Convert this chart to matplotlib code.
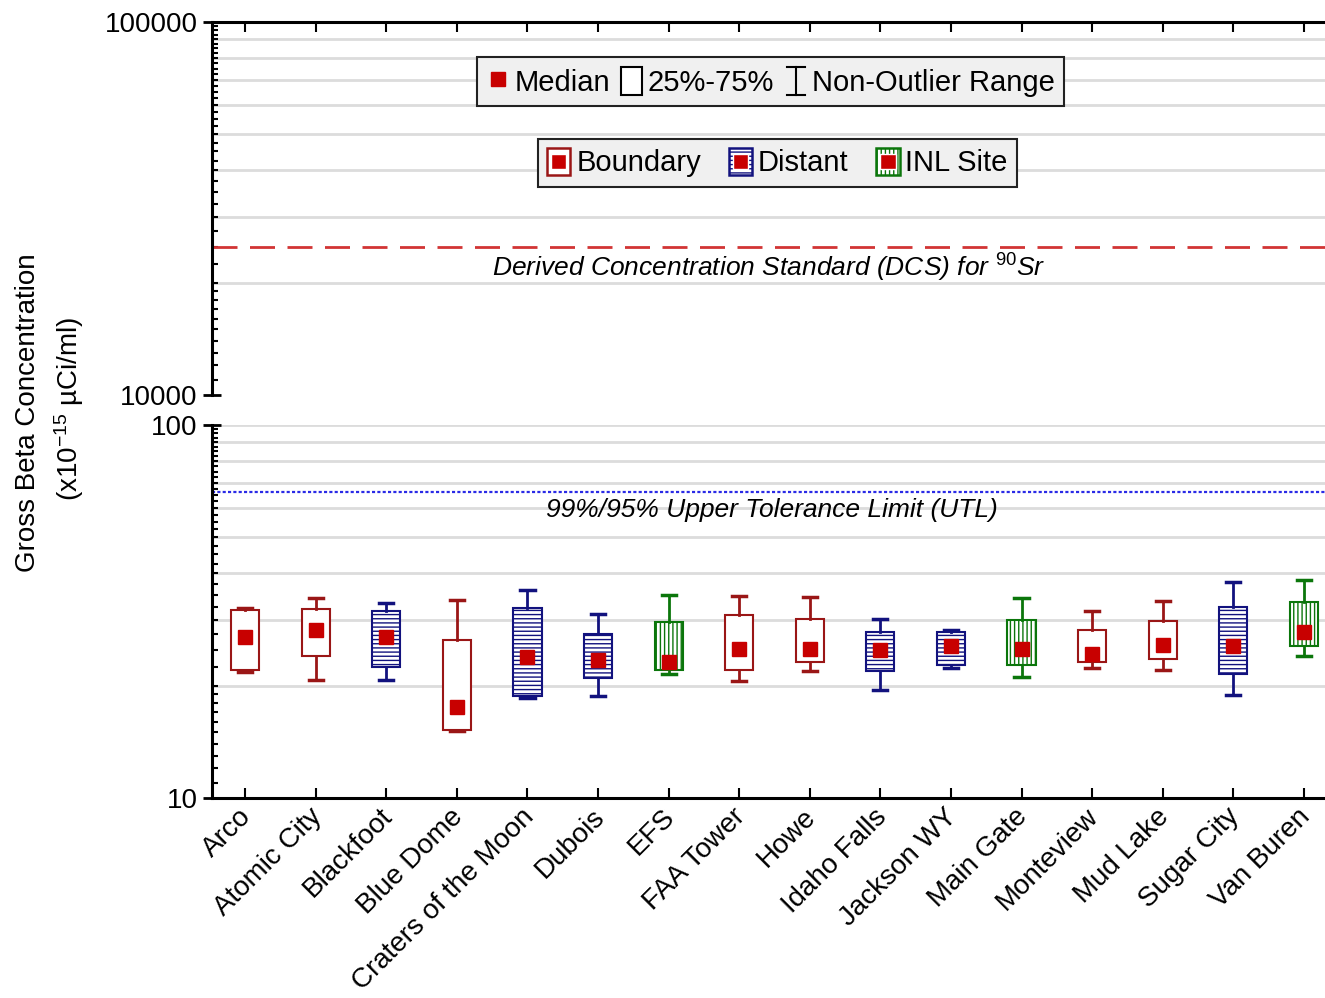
import numpy as np
import matplotlib
matplotlib.use('Agg')
import matplotlib.pyplot as plt
from matplotlib.patches import Rectangle
from matplotlib.lines import Line2D
from matplotlib.legend_handler import HandlerBase
from matplotlib.transforms import ScaledTranslation

plt.rcParams['font.family'] = ['Liberation Sans', 'DejaVu Sans']
plt.rcParams['mathtext.fontset'] = 'custom'
plt.rcParams['mathtext.rm'] = 'Liberation Sans'
plt.rcParams['mathtext.it'] = 'Liberation Sans:italic'
plt.rcParams['hatch.linewidth'] = 1.0

# Gross beta summary per air sampling station (x1e-15 uCi/ml)
stations = ['Arco', 'Atomic City', 'Blackfoot', 'Blue Dome', 'Craters of the Moon',
            'Dubois', 'EFS', 'FAA Tower', 'Howe', 'Idaho Falls', 'Jackson WY',
            'Main Gate', 'Monteview', 'Mud Lake', 'Sugar City', 'Van Buren']
groups = ['Boundary', 'Boundary', 'Distant', 'Boundary', 'Distant',
          'Distant', 'INL Site', 'Boundary', 'Boundary', 'Distant', 'Distant',
          'INL Site', 'Boundary', 'Boundary', 'Distant', 'INL Site']
whisker_low = [21.8, 20.7, 20.7, 15.1, 18.5, 18.8, 21.5, 20.6, 21.9, 19.5, 22.3, 21.1, 22.3, 22.1, 18.9, 24.0]
q1 = [22.1, 24.0, 22.5, 15.2, 18.8, 21.0, 22.1, 22.1, 23.1, 21.9, 22.8, 22.7, 23.1, 23.6, 21.5, 25.6]
medians = [27.1, 28.3, 27.1, 17.5, 23.9, 23.5, 23.2, 25.1, 25.1, 24.9, 25.6, 25.1, 24.4, 25.7, 25.6, 27.9]
q3 = [31.9, 32.1, 31.7, 26.6, 32.3, 27.5, 29.6, 30.9, 30.2, 27.9, 27.9, 30.0, 28.3, 29.8, 32.5, 33.5]
whisker_high = [32.3, 34.3, 33.3, 34.0, 36.2, 31.1, 35.1, 34.9, 34.6, 30.2, 28.2, 34.3, 31.8, 33.8, 38.0, 38.4]

dcs_limit = 25000   # DCS for Sr-90
utl_limit = 66      # 99%/95% UTL

group_names = ['Boundary', 'Distant', 'INL Site']
group_edge = {'Boundary': '#9A1616', 'Distant': '#12127E', 'INL Site': '#0B760B'}
group_hatch = {'Boundary': '', 'Distant': '----', 'INL Site': '||||'}
MED_RED = '#C80000'
GRID = '#DCDCDC'


class BoxKey(HandlerBase):
    """Legend key: group box with a median square inside."""
    def __init__(self, edge, hatch):
        super().__init__()
        self.edge = edge
        self.hatch = hatch

    def create_artists(self, legend, orig_handle, xdescent, ydescent,
                       width, height, fontsize, trans):
        x0, y0 = -xdescent, -ydescent
        box = Rectangle((x0, y0), width, height, facecolor='white',
                        edgecolor=self.edge, hatch=self.hatch, lw=1.8, transform=trans)
        s = 0.66 * width
        sq = Rectangle((x0 + (width - s) / 2, y0 + (height - s) / 2), s, s,
                       facecolor=MED_RED, edgecolor='white', lw=1.0, transform=trans)
        return [box, sq]


class PlainBoxKey(HandlerBase):
    def create_artists(self, legend, orig_handle, xdescent, ydescent,
                       width, height, fontsize, trans):
        return [Rectangle((-xdescent + 0.05 * width, -ydescent), 0.9 * width, height,
                          facecolor='white', edgecolor='black', lw=1.5, transform=trans)]


class WhiskerKey(HandlerBase):
    def create_artists(self, legend, orig_handle, xdescent, ydescent,
                       width, height, fontsize, trans):
        cx = -xdescent + width / 2
        y0, y1 = -ydescent, -ydescent + height
        hw = 0.4 * width
        arts = [Line2D([cx, cx], [y0, y1], color='black', lw=1.5, transform=trans),
                Line2D([cx - hw, cx + hw], [y0, y0], color='black', lw=1.5, transform=trans),
                Line2D([cx - hw, cx + hw], [y1, y1], color='black', lw=1.5, transform=trans)]
        return arts


fig = plt.figure(figsize=(13.25, 9.98), dpi=100)
ax_top = fig.add_axes([0.16, 0.6042, 0.84, 0.3737])
ax = fig.add_axes([0.16, 0.2004, 0.84, 0.3737])

x = np.arange(len(stations))
xlim = (-0.47, 15.3)

# lower panel: the box plots
stats = []
for i in range(len(stations)):
    stats.append(dict(med=medians[i], q1=q1[i], q3=q3[i], whislo=whisker_low[i],
                      whishi=whisker_high[i], mean=medians[i], label=stations[i]))
bp = ax.bxp(stats, positions=x, widths=0.4, capwidths=0.2, patch_artist=True,
            showmeans=True, showfliers=False,
            meanprops=dict(marker='s', markersize=9.5, markerfacecolor=MED_RED,
                           markeredgecolor=MED_RED),
            medianprops=dict(linewidth=0), zorder=3)
for i, g in enumerate(groups):
    c = group_edge[g]
    bp['boxes'][i].set(facecolor='white', edgecolor=c, hatch=group_hatch[g], linewidth=1.5)
    for w in bp['whiskers'][2 * i:2 * i + 2]:
        w.set(color=c, linewidth=2)
    for cap in bp['caps'][2 * i:2 * i + 2]:
        cap.set(color=c, linewidth=2.5)

ax.set_yscale('log')
ax.set_ylim(10, 100)
ax_top.set_yscale('log')
ax_top.set_ylim(10000, 100000)

for a, lo in ((ax, 10), (ax_top, 10000)):
    a.set_xlim(*xlim)
    for k in range(2, 11):
        a.axhline(k * lo, color=GRID, lw=2, zorder=0)
    minors = []
    for k in list(np.arange(1.1, 2.0, 0.1)) + list(np.arange(2.0, 10.0, 0.25)):
        minors.append(k * lo)
    a.set_yticks([lo, lo * 10])
    a.set_yticklabels([str(lo), str(lo * 10)])
    a.set_yticks(minors, minor=True)
    a.yaxis.set_minor_formatter(plt.NullFormatter())
    a.tick_params(axis='y', which='major', direction='inout', length=13, width=2,
                  pad=4, labelsize=20)
    a.tick_params(axis='y', which='minor', direction='in', length=4, width=1.5)
    a.spines['right'].set_visible(False)
    for sp in a.spines.values():
        sp.set_linewidth(2.2)

ax.spines['top'].set_visible(False)
ax_top.spines['bottom'].set_visible(False)

ax.set_xticks(x)
ax.set_xticklabels(stations, rotation=45, ha='right', rotation_mode='anchor', fontsize=20)
ax.tick_params(axis='x', direction='in', length=7, width=1.5, pad=4)
# nudge the slanted station names a little to the left of their ticks
shift = ScaledTranslation(-5 / 72, 0, fig.dpi_scale_trans)
for lab in ax.get_xticklabels():
    lab.set_transform(lab.get_transform() + shift)

ax_top.set_xticks(x)
ax_top.tick_params(axis='x', top=True, bottom=False, labeltop=False, labelbottom=False,
                   direction='in', length=7, width=1.5)

# reference lines
ax_top.axhline(dcs_limit, color='#D23434', lw=2, ls=(0, (9, 4.5)), zorder=2)
ax_top.text(0.5, 0.34, 'Derived Concentration Standard (DCS) for $^{90}$Sr',
            transform=ax_top.transAxes, ha='center', va='center', fontsize=19, style='italic')
ax.axhline(utl_limit, color='#2A2AE6', lw=1.6, ls=(0, (1.4, 1.0)), zorder=2)
ax.text(0.503, 0.772, '99%/95% Upper Tolerance Limit (UTL)',
        transform=ax.transAxes, ha='center', va='center', fontsize=19, style='italic')

# legends
h_med = Line2D([], [], marker='s', markersize=10.5, color=MED_RED, linestyle='none')
h_box = Rectangle((0, 0), 1, 1)
h_whisk = Line2D([], [])
leg1 = ax_top.legend([h_med, h_box, h_whisk], ['Median', '25%-75%', 'Non-Outlier Range'],
                     handler_map={h_box: PlainBoxKey(), h_whisk: WhiskerKey()},
                     loc='center', bbox_to_anchor=(0.502, 0.840), ncol=3, fontsize=21,
                     handlelength=0.8, handleheight=1.1, handletextpad=0.15,
                     columnspacing=0.35, borderpad=0.32, fancybox=False,
                     facecolor='#F0F0F0', edgecolor='#222222', framealpha=1)
leg1.get_frame().set_linewidth(1.5)
ax_top.add_artist(leg1)

grp_handles = [Rectangle((0, 0), 1, 1) for _ in group_names]
hmap = {h: BoxKey(group_edge[g], group_hatch[g]) for h, g in zip(grp_handles, group_names)}
leg2 = ax_top.legend(grp_handles, group_names, handler_map=hmap,
                     loc='center', bbox_to_anchor=(0.508, 0.623), ncol=3, fontsize=21,
                     handlelength=0.8, handleheight=1.05, handletextpad=0.2,
                     columnspacing=0.95, borderpad=0.32, fancybox=False,
                     facecolor='#F0F0F0', edgecolor='#222222', framealpha=1)
leg2.get_frame().set_linewidth(1.5)

fig.text(0.021, 0.586, 'Gross Beta Concentration', rotation=90, ha='center', va='center',
         fontsize=20)
fig.text(0.052, 0.590, '(x10$^{-15}$ µCi/ml)', rotation=90, ha='center', va='center',
         fontsize=20)

fig.savefig('out.png', dpi=100)
